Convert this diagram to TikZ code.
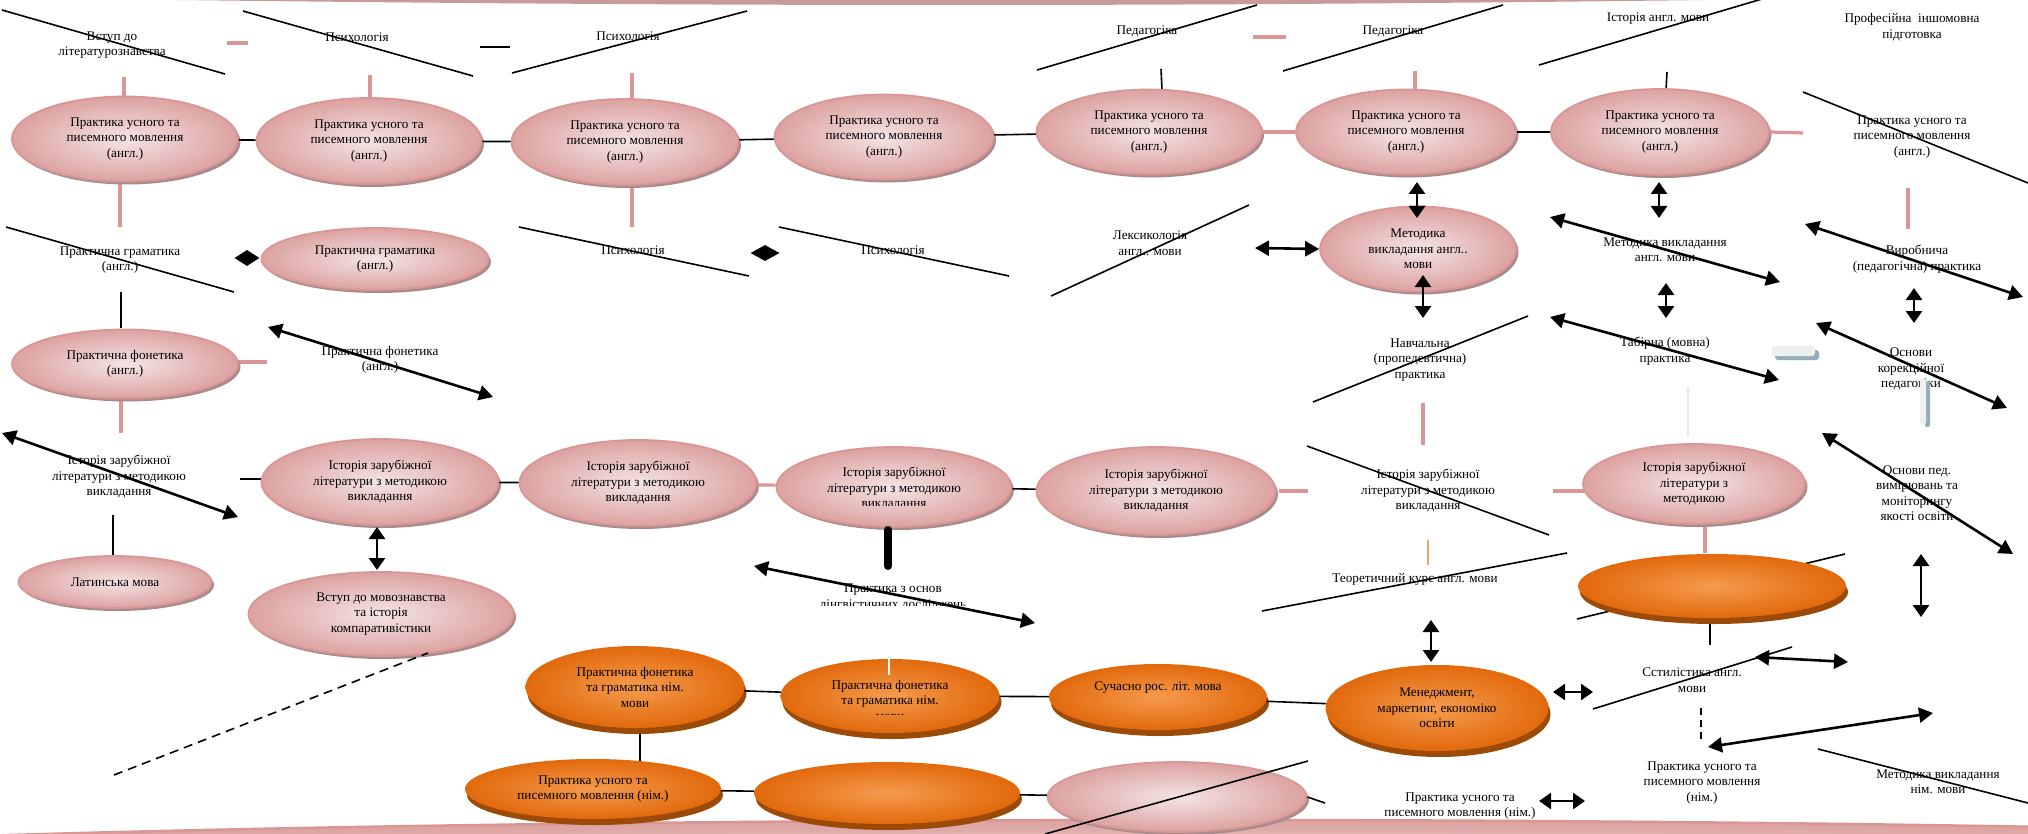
\documentclass[tikz,border=0pt]{standalone}
\usepackage{fontspec}
\setmainfont{Liberation Serif}
\usetikzlibrary{shapes.geometric,arrows.meta,shadows}
\definecolor{pinkE}{HTML}{D99694}
\definecolor{pinkIn}{HTML}{F4E4E4}
\definecolor{pinkOut}{HTML}{DCA2A1}
\definecolor{pinkSh}{HTML}{A98B8B}
\definecolor{orIn}{HTML}{F59B4E}
\definecolor{orOut}{HTML}{E2690C}
\definecolor{orSh}{HTML}{9C4A08}
\definecolor{topBand}{HTML}{C99A9A}
\definecolor{grayBlue}{HTML}{93AEB8}
\definecolor{lightGray}{HTML}{EFEFEF}
\newcommand{\fsz}{\fontsize{13.2pt}{15.5pt}\selectfont}
\tikzset{
  pinkell/.style={ellipse, draw=pinkE, line width=1.8pt, inner color=pinkIn, outer color=pinkOut,
    drop shadow={shadow xshift=2.5pt, shadow yshift=-3pt, fill=pinkSh, opacity=1},
    align=center, inner sep=0pt, font=\fsz},
  orell/.style={ellipse, inner color=orIn, outer color=orOut,
    drop shadow={shadow xshift=2pt, shadow yshift=-6pt, fill=orSh, opacity=1},
    align=center, inner sep=0pt, font=\fsz},
  lbl/.style={align=center, inner sep=0pt, font=\fsz},
  dline/.style={line width=1.6pt, black},
  pline/.style={line width=3.2pt, pinkE},
  bline/.style={line width=1.6pt, black},
  dbl/.style={line width=2.6pt, {Triangle[length=14pt,width=15pt]}-{Triangle[length=14pt,width=15pt]}},
  sdbl/.style={line width=2.6pt, {Triangle[length=12pt,width=16pt]}-{Triangle[length=12pt,width=16pt]}},
  blk/.style={diamond, fill=black, inner sep=0pt},
}
\begin{document}
\begin{tikzpicture}[x=1pt,y=-1pt]
\useasboundingbox (0,0) rectangle (2028,834);
\clip (0,0) rectangle (2028,834);
\fill[white] (0,0) rectangle (2028,834);

% top band
\fill[topBand] (100,-1) .. controls (700,7) and (1200,7) .. (1783,-1) -- cycle;

% ---------- stubs and connectors (behind ellipses) ----------
\draw[pline] (124,77) -- (124,97);
\draw[pline] (370,75) -- (370,97);
\draw[pline] (632,73) -- (632,99);
\draw[bline] (1161,69) -- (1162,90);
\draw[pline] (1415,71) -- (1415,90);
\draw[bline] (1667,72) -- (1666,90);
\draw[pline] (120,181) -- (120,227);
\draw[pline] (632,185) -- (632,227);
\draw[pline] (1908,188) -- (1908,229);
\draw[pline] (227,43) -- (248,43);
\draw[bline] (480,47) -- (510,47);
\draw[pline] (1253,37) -- (1286,37);
\draw[bline] (121,292) -- (121,328);
\draw[pline] (235,362) -- (267,362);
\draw[pline] (121,396) -- (121,433);
\draw[bline] (240,479) -- (262,479);
\draw[bline] (113,515) -- (113,558);
\draw[pline] (1279,491) -- (1308,491);
\draw[pline] (1553,491) -- (1585,491);
\draw[pline] (1705,527) -- (1705,553);
\draw[pline] (1423,403) -- (1423,445);
\draw[line width=2pt, orOut!60] (1428,540) -- (1428,565);
\draw[line width=1.5pt, pinkIn] (1688,387) -- (1688,437);
\draw[dline] (1577,619) -- (1845,554);
\draw[bline] (1710,622) -- (1710,645);
\draw[bline] (640,730) -- (640,767);

% ---------- row 1 ellipses ----------
\node[pinkell, minimum width=226pt, minimum height=85pt] (e1) at (125,139) {Практика усного та\\писемного мовлення\\(англ.)};
\node[pinkell, minimum width=225pt, minimum height=86pt] (e2) at (369,141) {Практика усного та\\писемного мовлення\\(англ.)};
\node[pinkell, minimum width=227pt, minimum height=86pt] (e3) at (625,142) {Практика усного та\\писемного мовлення\\(англ.)};
\node[pinkell, minimum width=219pt, minimum height=85pt] (e4) at (884,137) {Практика усного та\\писемного мовлення\\(англ.)};
\node[pinkell, minimum width=225pt, minimum height=85pt] (e5) at (1149,132) {Практика усного та\\писемного мовлення\\(англ.)};
\node[pinkell, minimum width=220pt, minimum height=85pt] (e6) at (1406,132) {Практика усного та\\писемного мовлення\\(англ.)};
\node[pinkell, minimum width=218pt, minimum height=86pt] (e7) at (1660,132) {Практика усного та\\писемного мовлення\\(англ.)};
\draw[bline] (e1) -- (e2);
\draw[bline] (e2) -- (e3);
\draw[bline] (e3) -- (e4);
\draw[bline] (e4) -- (e5);
\draw[pline] (e5) -- (e6);
\draw[bline] (e6) -- (e7);
\coordinate (e7r) at (1803,133);
\draw[pline] (e7.east) -- (e7r);

% ---------- row 2 ----------
\node[pinkell, minimum width=227pt, minimum height=62pt] (e8) at (375,259) {Практична граматика\\(англ.)};
\node[pinkell, minimum width=196pt, minimum height=85pt] (e9) at (1418,249) {Методика\\викладання англ..\\мови};
\node[pinkell, minimum width=226pt, minimum height=69pt] (fon) at (125,364) {Практична фонетика\\(англ.)};
\node[blk, minimum width=25pt, minimum height=16pt] (d1) at (247,258) {};
\node[blk, minimum width=29pt, minimum height=16pt] (d2) at (765,253) {};

% ---------- row 3 ----------
\node[pinkell, minimum width=193pt, minimum height=52pt] (lat) at (115,582) {Латинська мова};
\node[pinkell, minimum width=237pt, minimum height=86pt] (e10) at (380,482) {Історія зарубіжної\\літератури з методикою\\викладання};
\node[pinkell, minimum width=237pt, minimum height=86pt] (e11) at (638,483) {Історія зарубіжної\\літератури з методикою\\викладання};
\node[pinkell, minimum width=235pt, minimum height=80pt] (e12) at (894,487) {};
\begin{scope}
\clip (780,440) rectangle (1010,505);
\node[lbl] (e12t) at (894,489) {Історія зарубіжної\\літератури з методикою\\викладання};
\end{scope}
\node[pinkell, minimum width=239pt, minimum height=88pt] (e13) at (1156,491) {Історія зарубіжної\\літератури з методикою\\викладання};
\node[pinkell, minimum width=222pt, minimum height=80pt] (e14) at (1694,484) {Історія зарубіжної\\літератури з\\методикою};
\node[pinkell, minimum width=265pt, minimum height=84pt] (e16) at (381,614) {Вступ до мовознавства\\та історія\\компаративістики};
\draw[bline] (e10) -- (e11);
\draw[pline] (e11) -- (e12);
\draw[bline] (e12) -- (e13);
\node[orell, minimum width=268pt, minimum height=64pt] (e15) at (1712,586) {};

% ---------- orange row ----------
\node[orell, minimum width=219pt, minimum height=82pt] (o1) at (635,687) {Практична фонетика\\та граматика нім.\\мови};
\node[orell, minimum width=219pt, minimum height=74pt] (o2) at (890,696) {};
\begin{scope}
\clip (780,650) rectangle (1000,714);
\node[lbl] (o2t) at (890,700) {Практична фонетика\\та граматика нім.\\мови};
\end{scope}
\draw[line width=2pt, white] (889,658) -- (889,675);
\node[orell, minimum width=218pt, minimum height=66pt] (o3) at (1158,697) {};
\node[lbl] (o3t) at (1158,688) {Сучасно рос. літ. мова};
\node[orell, minimum width=223pt, minimum height=86pt] (o4) at (1437,708) {Менеджмент,\\маркетинг, економіко\\освіти};
\draw[bline] (o1) -- (o2);
\draw[bline] (o2) -- (o3);
\draw[bline] (o3) -- (o4);

% ---------- free labels ----------
\node[lbl] (t1) at (112,45) {Вступ до\\літературознавства};
\node[lbl] (t2) at (357,37) {Психологія};
\node[lbl] (t3) at (628,36) {Психологія};
\node[lbl] (t4) at (1147,31) {Педагогіка};
\node[lbl] (t5) at (1393,31) {Педагогіка};
\node[lbl] (t6) at (1658,19) {Історія англ. мови};
\node[lbl] (t7) at (1912,27) {Професійна\ \ іншомовна\\підготовка};
\node[lbl] (t8) at (1912,137) {Практика усного та\\писемного мовлення\\(англ.)};
\node[lbl] (t9) at (120,260) {Практична граматика\\(англ.)};
\node[lbl] (t10) at (633,250) {Психологія};
\node[lbl] (t11) at (893,250) {Психологія};
\node[lbl] (t12) at (1150,243) {Лексикологія\\англ.. мови};
\node[lbl] (t13) at (1420,360) {Навчальна\\(пропедевтична)\\практика};
\node[lbl] (t14) at (1665,250) {Методика викладання\\англ. мови};
\node[lbl] (t15) at (1665,351) {Табірна (мовна)\\практика};
\node[lbl] (t16) at (1917,259) {Виробнича\\(педагогічна) практика};
\node[lbl] (t17) at (1911,369) {Основи\\корекційної\\педагогіки};
\node[lbl] (tf) at (380,360) {Практична фонетика\\(англ.)};
\node[lbl] (t18) at (119,477) {Історія зарубіжної\\літератури з методикою\\викладання};
\node[lbl] (t19) at (1428,491) {Історія зарубіжної\\літератури з методикою\\викладання};
\node[lbl] (t20) at (1415,579) {Теоретичний курс англ. мови};
\node[lbl] (t21) at (1917,493) {Основи пед.\\вимірювань та\\моніторингу\\якості освіти};
\begin{scope}
\clip (780,570) rectangle (1010,605);
\node[lbl, anchor=north] (t22) at (893,584) {Практика з основ\\лінгвістичних досліджень};
\end{scope}
\node[lbl] (t23) at (1692,680) {Сстилістика англ.\\мови};
\node[lbl] (t24) at (1702,783) {Практика усного та\\писемного мовлення\\(нім.)};
\node[lbl] (t25) at (1938,782) {Методика викладання\\нім. мови};
\node[lbl] (t26) at (1460,806) {Практика усного та\\писемного мовлення (нім.)};

% gray stubs
\fill[grayBlue, rounded corners=3pt] (1775,350) rectangle (1819,360);
\fill[lightGray, rounded corners=3pt] (1772,346) rectangle (1815,356);
\fill[grayBlue, rounded corners=2pt] (1925,381) rectangle (1930,427);
\fill[lightGray, rounded corners=2pt] (1920,379) rectangle (1926,424);

% ---------- diagonal lines through labels ----------
\draw[dline] (2,10) -- (225,74);
\draw[dline] (243,11) -- (473,76);
\draw[dline] (512,73) -- (747,11);
\draw[dline] (1037,70) -- (1257,5);
\draw[dline] (1283,71) -- (1503,5);
\draw[dline] (1539,65) -- (1762,-1);
\draw[dline] (1803,92) -- (2028,183);
\draw[dline] (6,227) -- (234,292);
\draw[dline] (519,227) -- (749,276);
\draw[dline] (779,227) -- (1009,276);
\draw[dline] (1051,296) -- (1249,205);
\draw[dline] (1313,402) -- (1528,316);
\draw[dline] (1307,446) -- (1549,535);
\draw[dline] (1262,611) -- (1567,553);
\draw[dline] (1593,709) -- (1792,647);
\draw[dline] (1818,749) -- (2028,803);
\draw[dline, dashed, dash pattern=on 9pt off 6pt] (114,775) -- (428,653);
\draw[dline, dashed, dash pattern=on 7pt off 5pt] (1701,708) -- (1701,743);

% ---------- arrows ----------
\draw[dbl] (1255,248) -- (e9.west);
\draw[sdbl] (1417,182) -- (1417,218);
\draw[sdbl] (1423,275) -- (1423,318);
\draw[sdbl] (1659,182) -- (1659,218);
\draw[sdbl] (1666,283) -- (1666,318);
\draw[sdbl] (1914,288) -- (1914,323);
\draw[dbl] (1550,217) -- (1780,282);
\draw[dbl] (1550,317) -- (1779,380);
\draw[dbl] (1805,224) -- (2023,297);
\draw[dbl] (1816,323) -- (2007,408);
\draw[dbl] (268,327) -- (493,397);
\draw[dbl] (2,433) -- (238,517);
\draw[sdbl] (377,527) -- (377,570);
\draw[line width=8pt, line cap=round] (888,530) -- (888,566);
\draw[dbl] (754,566) -- (1035,623);
\draw[dbl] (1822,433) -- (2013,554);
\draw[sdbl] (1921,554) -- (1921,617);
\draw[sdbl] (1431,620) -- (1431,662);
\draw[sdbl] (1553,692) -- (1593,692);
\draw[dbl] (1755,657) -- (1848,662);
\draw[dbl] (1708,747) -- (1933,713);
\draw[sdbl] (1539,801) -- (1585,801);

% ---------- bottom band and bottom ellipses ----------
\draw[draw=pinkE, line width=2.5pt, inner color=pinkIn, outer color=pinkOut] (1200,880) ellipse [x radius=1800pt, y radius=60pt];
\draw[bline] (640,760) -- (640,767);
\node[orell, minimum width=256pt, minimum height=60pt] (o5) at (593,789) {Практика усного та\\писемного мовлення (нім.)};
\node[orell, minimum width=266pt, minimum height=62pt] (o6) at (887,793) {};
\node[pinkell, minimum width=259pt, minimum height=70pt] (p1) at (1177,797) {};
\draw[bline] (o5) -- (o6);
\draw[bline] (o6) -- (p1);
\coordinate (p1r) at (1325,803);
\draw[bline] (p1.east) -- (p1r);
\draw[dline] (1045,834) -- (1308,761);
\end{tikzpicture}
\end{document}
